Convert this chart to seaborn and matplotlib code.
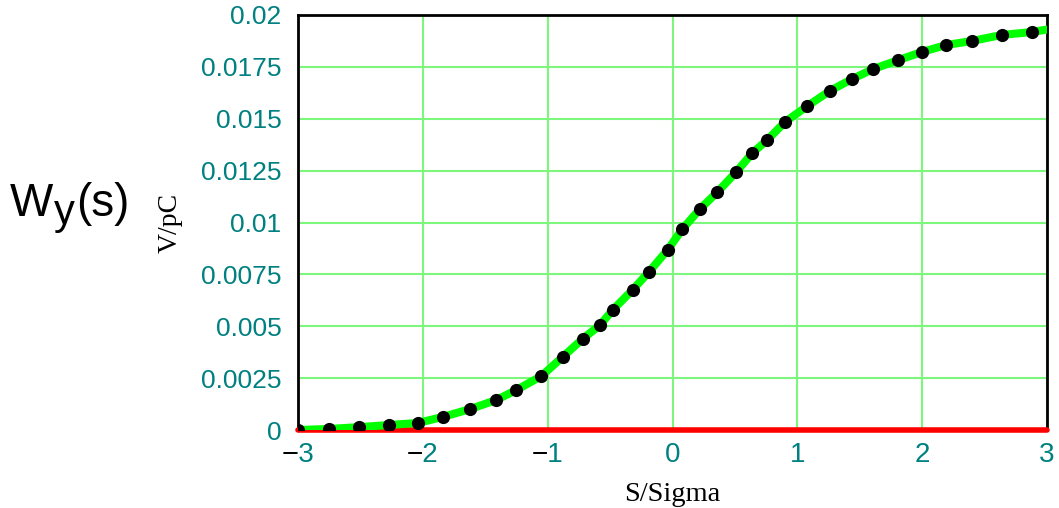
import numpy as np
import pandas as pd
import matplotlib
matplotlib.use("Agg")
import matplotlib.pyplot as plt
from matplotlib import font_manager
import seaborn as sns

# ---- data ----
dot_x = [-3.00, -2.75, -2.51, -2.27, -2.04, -1.84, -1.62, -1.41, -1.25, -1.05,
         -0.88, -0.72, -0.58, -0.48, -0.32, -0.19, -0.04, 0.08, 0.22, 0.36,
         0.51, 0.64, 0.76, 0.90, 1.08, 1.26, 1.44, 1.61, 1.81, 2.00,
         2.19, 2.40, 2.64, 2.88]
dot_y = [0.00000, 0.00005, 0.00014, 0.00024, 0.00034, 0.00063, 0.00101, 0.00145, 0.00193, 0.00260,
         0.00352, 0.00439, 0.00506, 0.00578, 0.00675, 0.00761, 0.00867, 0.00969, 0.01065, 0.01147,
         0.01243, 0.01335, 0.01398, 0.01484, 0.01561, 0.01634, 0.01692, 0.01740, 0.01783, 0.01822,
         0.01855, 0.01875, 0.01904, 0.01918]
curve_x = dot_x + [3.00]
curve_y = dot_y + [0.0193]
red_x = [-3.0, 3.0]
red_y = [0.0, 0.0]

x_ticks = [-3, -2, -1, 0, 1, 2, 3]
x_labels = ["\u22123", "\u22122", "\u22121", "0", "1", "2", "3"]
# black minus signs overlaid on the teal labels (figure space keeps digit width)
x_minus_labels = ["\u2212\u2007", "\u2212\u2007", "\u2212\u2007", "", "", "", ""]
y_ticks = [0, 0.0025, 0.005, 0.0075, 0.01, 0.0125, 0.015, 0.0175, 0.02]
y_labels = ["0", "0.0025", "0.005", "0.0075", "0.01", "0.0125", "0.015", "0.0175", "0.02"]

sns.set_theme(style="white")
plt.rcParams["font.family"] = ["Liberation Sans", "DejaVu Sans"]

installed = {f.name for f in font_manager.fontManager.ttflist}
xfont = "Liberation Sans Narrow" if "Liberation Sans Narrow" in installed else "Liberation Sans"

fig = plt.figure(figsize=(10.59, 5.08), dpi=100)
ax = fig.add_axes([298 / 1059, 1 - 430 / 508, (1047 - 298) / 1059, (430 - 15) / 508])

teal = "#008080"
green_grid = "#7CF77C"

curve_df = pd.DataFrame({"x": curve_x, "y": curve_y})
dots_df = pd.DataFrame({"x": dot_x, "y": dot_y})
red_df = pd.DataFrame({"x": red_x, "y": red_y})

sns.lineplot(data=red_df, x="x", y="y", ax=ax, color="#FF0000", linewidth=4.0,
             zorder=3, clip_on=False)
sns.lineplot(data=curve_df, x="x", y="y", ax=ax, color="#00FF00", linewidth=5.8,
             zorder=4)
sns.scatterplot(data=dots_df, x="x", y="y", ax=ax, color="black", s=90,
                edgecolor="black", linewidth=0, zorder=5)

ax.set_xlim(-3, 3)
ax.set_ylim(0, 0.02)
ax.set_xticks(x_ticks)
ax.set_xticklabels(x_labels, family=[xfont, "DejaVu Sans"])
ax.set_yticks(y_ticks)
ax.set_yticklabels(y_labels)
ax.tick_params(axis="both", length=0, labelcolor=teal)
ax.tick_params(axis="y", pad=12, labelsize=19)
ax.tick_params(axis="x", pad=8.5, labelsize=20)

# overlay black minus signs on the negative x tick labels
ax2 = ax.twiny()
ax2.set_xlim(ax.get_xlim())
ax2.set_xticks(x_ticks)
ax2.set_xticklabels(x_minus_labels, family=[xfont, "DejaVu Sans"])
ax2.xaxis.set_ticks_position("bottom")
ax2.tick_params(axis="x", length=0, pad=8.5, labelsize=20, labelcolor="black",
                labelbottom=True, labeltop=False)
for side in ["left", "right", "top", "bottom"]:
    ax2.spines[side].set_visible(False)

ax.grid(True, color=green_grid, linewidth=1.5, zorder=1)
ax.set_axisbelow(True)
for side in ["left", "right", "top", "bottom"]:
    ax.spines[side].set_color("black")
    ax.spines[side].set_linewidth(2)
    ax.spines[side].set_visible(True)

ax.set_xlabel("S/Sigma", family="Liberation Serif", fontsize=20.5, color="black", labelpad=10)
ax.set_ylabel("V/pC", family="Liberation Serif", fontsize=20, color="black", labelpad=13)

# W_y(s) label
fig.text(10 / 1059, 1 - 216 / 508, "W", fontsize=33, ha="left", va="baseline", color="black")
fig.text(54 / 1059, 1 - 224 / 508, "y", fontsize=30, ha="left", va="baseline", color="black")
fig.text(76 / 1059, 1 - 216 / 508, "(s)", fontsize=33, ha="left", va="baseline", color="black")

fig.savefig("out.png", dpi=100)
